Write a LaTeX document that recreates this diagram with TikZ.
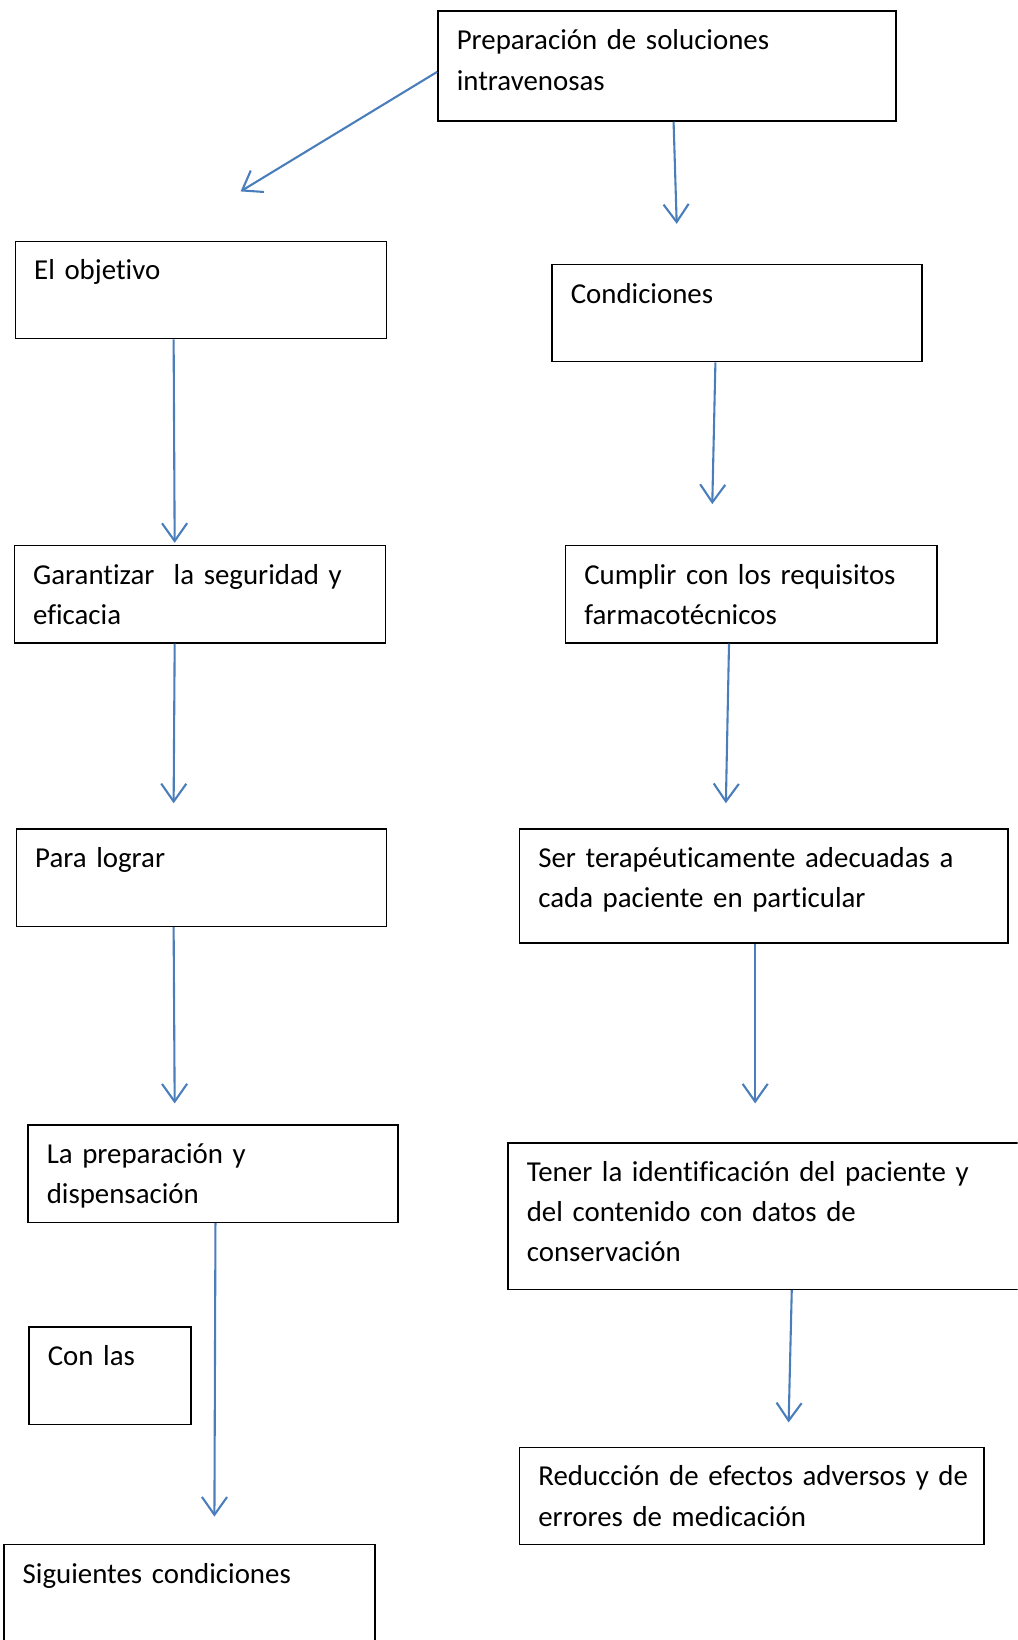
\documentclass[tikz,border=0pt]{standalone}
\usepackage{fontspec}
\setmainfont{Carlito}[Ligatures=NoCommon]
\usetikzlibrary{arrows.meta,calc}
\definecolor{azul}{RGB}{74,126,187}

\begin{document}
\begin{tikzpicture}[x=0.5pt, y=-0.5pt,
  caja/.style 2 args={draw, line width=0.7pt, anchor=north west, align=left,
    inner xsep=9pt, inner ysep=0pt, text height=18.5pt, text width=#1, text depth=#2,
    font=\fontsize{13.8}{19.2}\selectfont},
  flecha/.style={draw=azul, line width=1pt, -{Straight Barb[length=8.5pt,width=12pt]}}]
  \clip (0,0) rectangle (973,1568);
  % cajas
  \node[caja={201pt}{34pt}] (prep) at (418,10) {Preparación de soluciones\\intravenosas};
  \node[caja={159.5pt}{28pt}] (obj) at (14,230) {El objetivo};
  \node[caja={159pt}{28pt}] (cond) at (527,252) {Condiciones};
  \node[caja={159.5pt}{28pt}] (gar) at (13,521) {Garantizar~ la seguridad y\\eficacia};
  \node[caja={159.5pt}{28pt}] (req) at (540,521) {Cumplir con los requisitos\\farmacotécnicos};
  \node[caja={159pt}{28pt}] (lograr) at (15,792) {Para lograr};
  \node[caja={215.5pt}{36pt}] (ter) at (496,792) {Ser terapéuticamente adecuadas a\\cada paciente en particular};
  \node[caja={159pt}{28pt}] (disp) at (26,1075) {La preparación y\\dispensación};
  \node[caja={59.5pt}{28pt}] (conlas) at (27,1268) {Con las};
  \node[caja={242pt}{51.5pt}] (ten) at (485,1092) {Tener la identificación del paciente y\\del contenido con datos de\\conservación};
  \node[caja={204pt}{28pt}] (red) at (496,1383) {\mbox{Reducción de efectos adversos y de}\\errores de medicación};
  \node[caja={159.5pt}{41.5pt}] (sig) at (3,1476) {Siguientes condiciones};
  % extremos libres de las flechas
  \coordinate (e1) at (230,183);
  \coordinate (e2) at (647,214);
  \coordinate (e3) at (167,519);
  \coordinate (e4) at (681,482);
  \coordinate (e5) at (166,768);
  \coordinate (e6) at (694,768);
  \coordinate (e7) at (167,1055);
  \coordinate (e8) at (722,1055);
  \coordinate (e9) at (205,1450);
  \coordinate (e10) at (754,1360);
  % flechas
  \draw[flecha] ($(prep.west)+(0,5.5)$) -- (e1);
  \draw[flecha] ($(prep.south west)+(226,0)$) -- (e2);
  \draw[flecha] ($(obj.south west)+(152,0)$) -- (e3);
  \draw[flecha] ($(cond.south west)+(157,0)$) -- (e4);
  \draw[flecha] ($(gar.south west)+(154,0)$) -- (e5);
  \draw[flecha] ($(req.south west)+(157,0)$) -- (e6);
  \draw[flecha] ($(lograr.south west)+(151,0)$) -- (e7);
  \draw[flecha] ($(ter.south west)+(226,0)$) -- (e8);
  \draw[flecha] ($(disp.south west)+(180,0)$) -- (e9);
  \draw[flecha] ($(ten.south west)+(272,0)$) -- (e10);
\end{tikzpicture}
\end{document}
